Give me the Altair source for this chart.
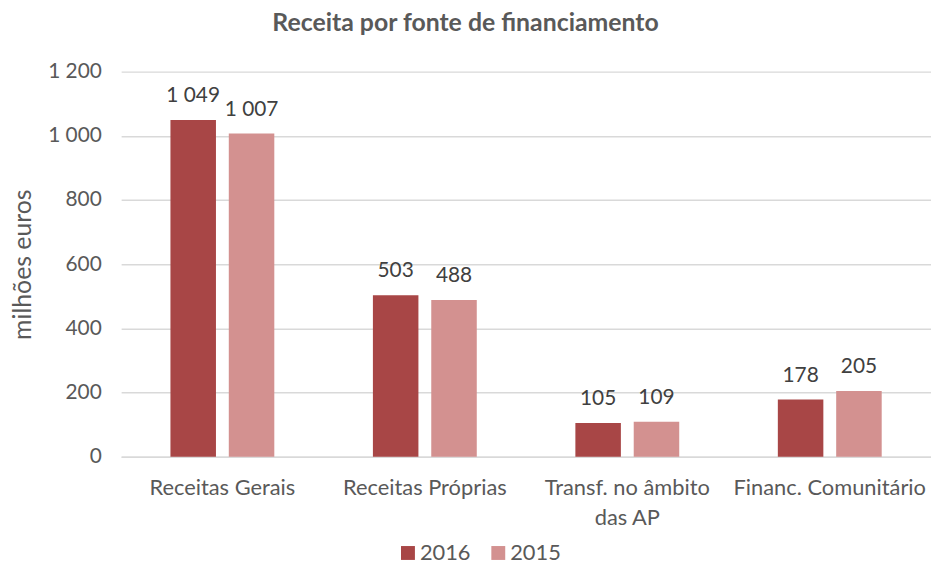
import altair as alt
import pandas as pd

categories = ["Receitas Gerais", "Receitas Próprias", "Transf. no âmbito|das AP", "Financ. Comunitário"]
years = ["2016", "2015"]
values_2016 = [1049, 503, 105, 178]
values_2015 = [1007, 488, 109, 205]
colors = ["#A84646", "#D39190"]

rows = []
for c, v16, v15 in zip(categories, values_2016, values_2015):
    rows.append({"cat": c, "year": "2016", "value": v16})
    rows.append({"cat": c, "year": "2015", "value": v15})
df = pd.DataFrame(rows)
df["label"] = df["value"].map(lambda v: f"{v:,}".replace(",", " "))

FONT = "Lato"
GREY = "#595959"

x = alt.X("cat:N", sort=categories, title=None,
          scale=alt.Scale(paddingInner=0.487, paddingOuter=0.2435),
          axis=alt.Axis(labelAngle=0, labelFontSize=22, labelColor=GREY, labelFont=FONT,
                        labelPadding=21, ticks=False, domainColor="#D9D9D9", domainWidth=1.5,
                        labelLimit=0, labelOverlap=False,
                        labelExpr="split(datum.label, '|')", labelLineHeight=30))
xo = alt.XOffset("year:N", sort=years, scale=alt.Scale(paddingInner=0.22, paddingOuter=0))

base = alt.Chart(df).encode(x=x, xOffset=xo)

bars = base.mark_bar().encode(
    y=alt.Y("value:Q", title="milhões euros",
            scale=alt.Scale(domain=[0, 1200]),
            axis=alt.Axis(values=[0, 200, 400, 600, 800, 1000, 1200],
                          labelExpr="replace(format(datum.value, ','), ',', ' ')",
                          labelFontSize=21, labelColor=GREY, labelFont=FONT, labelPadding=20,
                          ticks=False, domain=False, gridColor="#D9D9D9", gridWidth=1.5,
                          titleFontSize=25, titleColor=GREY, titleFont=FONT, titleFontWeight="normal",
                          titlePadding=12)),
    color=alt.Color("year:N", sort=years, scale=alt.Scale(domain=years, range=colors),
                    legend=alt.Legend(title=None, orient="none", direction="horizontal",
                                      legendX=278, legendY=474, symbolType="square",
                                      symbolSize=196, symbolStrokeWidth=0, labelFontSize=22,
                                      labelColor=GREY, labelFont=FONT, columnPadding=16,
                                      labelOffset=1, symbolOpacity=1)),
)

labels = base.mark_text(dy=-14, fontSize=21, font=FONT, color="#404040", baseline="bottom").encode(
    y="value:Q", text="label:N"
)

chart = alt.layer(bars, labels).properties(
    width=816, height=388,
    title=alt.TitleParams("Receita por fonte de financiamento", fontSize=25, font=FONT,
                          fontWeight="bold", color=GREY, anchor="middle", dx=-61, offset=25),
    padding={"left": 114, "top": 62, "right": 0, "bottom": 108},
    autosize=alt.AutoSizeParams(type="none"),
).configure_view(stroke=None)

chart.save("out.html", embed_options={"renderer": "svg", "actions": False})
